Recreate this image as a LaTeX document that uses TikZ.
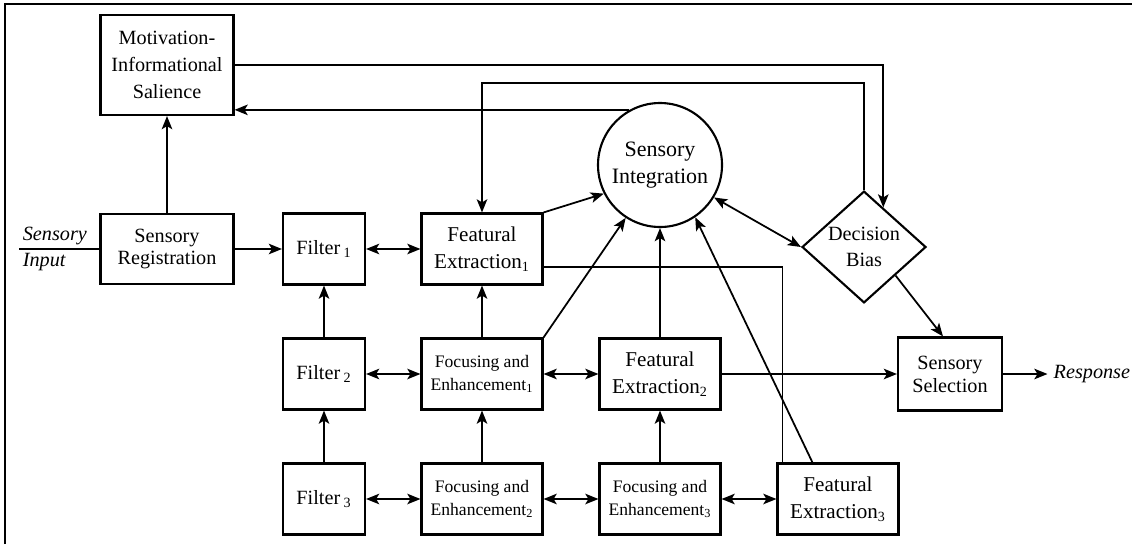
\documentclass[tikz,border=0pt]{standalone}
\usepackage{fontspec}
\setmainfont{Liberation Serif}
\usetikzlibrary{shapes.geometric,arrows.meta}
\tikzset{>={Stealth[length=7.5pt,width=6pt,inset=1.8pt]}}
\tikzset{
  block/.style={draw,line width=1.2pt,align=center,inner sep=0pt,
    minimum width=#1,minimum height=1.42cm,
    font=\fontsize{11.5}{13}\selectfont},
  block/.default=2.42cm,
  feat/.style={block,font=\fontsize{12}{15.5}\selectfont},
  focus/.style={block,font=\fontsize{10}{13}\selectfont},
  link/.style={line width=1pt},
  italic/.style={font=\fontsize{11.5}{13}\selectfont\itshape}
}

\begin{document}
\begin{tikzpicture}
\useasboundingbox (0,0) rectangle (22.64,-10.88);
\draw[line width=1.2pt] (0.1,-10.88) -- (0.1,-0.08) -- (22.64,-0.08);

% boxes
\node[block=2.66cm,minimum height=2cm,font=\fontsize{11.5}{15.5}\selectfont]
  (mot) at (3.34,-1.30) {Motivation-\\Informational\\Salience};
\node[block=2.66cm,minimum height=1.40cm] (reg) at (3.34,-4.98) {Sensory\\Registration};
\node[block=1.64cm] (f1) at (6.48,-4.98) {Filter\,\textsubscript{1}};
\node[block=1.64cm] (f2) at (6.48,-7.48) {Filter\,\textsubscript{2}};
\node[block=1.64cm] (f3) at (6.48,-9.98) {Filter\,\textsubscript{3}};
\node[feat] (fe1) at (9.64,-4.98) {Featural\\Extraction\textsubscript{1}};
\node[focus] (fae1) at (9.64,-7.48) {Focusing and\\Enhancement\textsubscript{1}};
\node[focus] (fae2) at (9.64,-9.98) {Focusing and\\Enhancement\textsubscript{2}};
\node[feat] (fe2) at (13.20,-7.48) {Featural\\Extraction\textsubscript{2}};
\node[focus] (fae3) at (13.20,-9.98) {Focusing and\\Enhancement\textsubscript{3}};
\node[feat] (fe3) at (16.76,-9.98) {Featural\\Extraction\textsubscript{3}};
\node[block=2.08cm,minimum height=1.46cm] (sel) at (19.00,-7.48) {Sensory\\Selection};
\node[circle,draw,line width=1.2pt,minimum size=2.48cm,inner sep=0pt,align=center,
  font=\fontsize{12.5}{15}\selectfont] (integ) at (13.20,-3.30) {Sensory\\Integration};
\node[diamond,draw,line width=1.2pt,minimum width=2.48cm,minimum height=2cm,inner sep=0pt,
  align=center,font=\fontsize{11.5}{15}\selectfont] (bias) at (17.28,-4.94) {Decision\\Bias};

% input and output
\coordinate (inp) at (0.38,-4.98);
\node[italic,anchor=south west,inner sep=2pt] (inptop) at (inp) {Sensory};
\node[italic,anchor=north west,inner sep=2pt] (inpbot) at (inp) {Input};
\node[italic,anchor=west] (resp) at (20.95,-7.48) {Response};
\draw[link] (inp) -- (reg);

% connectors
\draw[link,->] (reg) -- (mot);
\draw[link,->] (reg) -- (f1);
\draw[link,<->] (f1) -- (fe1);
\draw[link,<->] (f2) -- (fae1);
\draw[link,<->] (f3) -- (fae2);
\draw[link,<->] (fae1) -- (fe2);
\draw[link,<->] (fae2) -- (fae3);
\draw[link,<->] (fae3) -- (fe3);
\draw[link,->] (f2) -- (f1);
\draw[link,->] (f3) -- (f2);
\draw[link,->] (fae1) -- (fe1);
\draw[link,->] (fae2) -- (fae1);
\draw[link,->] (fae3) -- (fe2);
\draw[link,->] (fe2) -- (integ);
\draw[link,->] (fe1.north east) -- (integ.207);
\draw[link,->] (fae1.north east) -- (integ.237);
\draw[link,->] ([xshift=0.72cm]fe3.north west) -- (integ.304);
\draw[link] ([yshift=-0.36cm]fe1.east) -| ([xshift=0.12cm]fe3.north west);
\draw[link,<->] (integ.329) -- (bias.west);
\draw[link,->] (bias.south east) -- ([xshift=-0.14cm]sel.north);
\draw[link,->] (fe2) -- (sel);
\draw[link,->] (sel) -- (resp);

% feedback loops
\draw[link,->] (mot.east) -| (bias.64);
\coordinate (ovr) at (0,-1.66);
\draw[link,->] (bias.north) |- (fe1.north |- ovr) -- (fe1.north);
\draw[link,->] (integ.119) -- (integ.119 -| mot.east);
\end{tikzpicture}
\end{document}
